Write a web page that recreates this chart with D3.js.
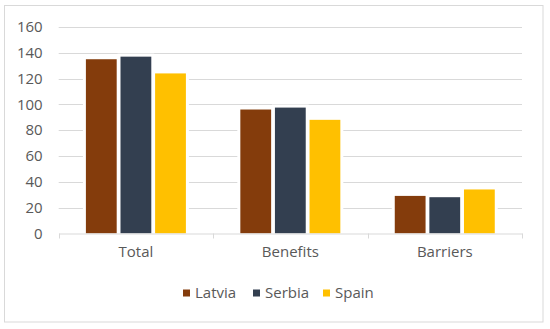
<!DOCTYPE html>
<html>
<head>
<meta charset="utf-8">
<script src="https://cdn.jsdelivr.net/npm/d3@7"></script>
<style>
  body { margin: 0; background: #fff; }
  svg { display: block; font-family: "Open Sans", sans-serif; }
</style>
</head>
<body>
<svg id="chart" width="550" height="329"></svg>
<script>
const categories = ["Total", "Benefits", "Barriers"];
const seriesNames = ["Latvia", "Serbia", "Spain"];
const latvia = [135, 96, 29];
const serbia = [137, 97.5, 28];
const spain = [124, 88, 34];
const yTicks = [0, 20, 40, 60, 80, 100, 120, 140, 160];
const colors = ["#843C0C", "#333F50", "#FFC000"];

const seriesValues = [latvia, serbia, spain];
const data = categories.map((c, i) => ({
    name: c,
    values: seriesNames.map((s, j) => ({ key: s, value: seriesValues[j][i] }))
}));

const width = 550;
const height = 329;
const margin = { top: 27, right: 28, bottom: 95.7, left: 58.7 };
const fontSize = "15px";

const svg = d3.select("#chart");

// outer frame
svg.append("rect")
    .attr("x", 4.5).attr("y", 5.5)
    .attr("width", 538.5).attr("height", 316.5)
    .attr("fill", "none")
    .attr("stroke", "#D9D9D9")
    .attr("stroke-width", 1);

const y = d3.scaleLinear()
    .domain([0, 160])
    .range([height - margin.bottom, margin.top]);

const x0 = d3.scaleBand()
    .domain(categories)
    .range([margin.left, width - margin.right])
    .padding(0);

const x1 = d3.scaleBand()
    .domain(seriesNames)
    .range([27.2, 127.2])
    .paddingInner(0.11);

const color = d3.scaleOrdinal()
    .domain(seriesNames)
    .range(colors);

// gridlines
svg.append("g")
    .selectAll("line")
    .data(yTicks.filter(d => d > 0))
    .join("line")
    .attr("x1", margin.left)
    .attr("x2", width - margin.right)
    .attr("y1", d => Math.round(y(d)) + 0.5)
    .attr("y2", d => Math.round(y(d)) + 0.5)
    .attr("stroke", "#D9D9D9")
    .attr("stroke-width", 1);

// y labels
let yAxis = g => g
    .attr("transform", `translate(${margin.left - 16},0)`)
    .call(d3.axisLeft(y).tickValues(yTicks).tickSize(0).tickPadding(0))
    .call(g => g.select(".domain").remove())
    .call(g => g.selectAll("text")
        .attr("fill", "#595959")
        .attr("font-size", fontSize)
        .attr("font-family", "Open Sans, sans-serif"));

svg.append("g").call(yAxis);

// bars
const groups = svg.append("g")
    .selectAll("g")
    .data(data)
    .join("g")
    .attr("transform", d => `translate(${x0(d.name)},0)`);

// white halo behind bars (breaks the gridlines like the original)
groups.selectAll("rect.halo")
    .data(d => d.values)
    .join("rect")
    .attr("class", "halo")
    .attr("x", d => x1(d.key) - 3)
    .attr("y", d => y(d.value) - 3)
    .attr("width", x1.bandwidth() + 6)
    .attr("height", d => y(0) - y(d.value) + 3)
    .attr("fill", "#fff");

groups.selectAll("rect.bar")
    .data(d => d.values)
    .join("rect")
    .attr("class", "bar")
    .attr("x", d => x1(d.key))
    .attr("y", d => y(d.value))
    .attr("width", x1.bandwidth())
    .attr("height", d => y(0) - y(d.value))
    .attr("fill", d => color(d.key));

// x axis
let xAxis = g => g
    .attr("transform", `translate(0,${Math.round(y(0)) + 0.5})`)
    .call(d3.axisBottom(x0).tickSize(0).tickPadding(13))
    .call(g => g.select(".domain").attr("stroke", "#D9D9D9"))
    .call(g => g.selectAll("text")
        .attr("fill", "#595959")
        .attr("font-size", fontSize)
        .attr("font-family", "Open Sans, sans-serif"));

svg.append("g").call(xAxis);

// category separators
const tickX = categories.map(c => x0(c)).concat([width - margin.right]);
svg.append("g")
    .selectAll("line")
    .data(tickX)
    .join("line")
    .attr("x1", d => Math.round(d) + 0.5)
    .attr("x2", d => Math.round(d) + 0.5)
    .attr("y1", Math.round(y(0)) + 0.5)
    .attr("y2", Math.round(y(0)) + 5.5)
    .attr("stroke", "#D9D9D9");

// legend
const legendItems = [
    { key: "Latvia", x: 183 },
    { key: "Serbia", x: 253 },
    { key: "Spain", x: 323 }
];
const legend = svg.append("g")
    .selectAll("g")
    .data(legendItems)
    .join("g")
    .attr("transform", d => `translate(${d.x},293)`);

legend.append("rect")
    .attr("x", 0).attr("y", -3.5)
    .attr("width", 7).attr("height", 7)
    .attr("fill", d => color(d.key));

legend.append("text")
    .attr("x", 12)
    .attr("dy", "0.35em")
    .attr("fill", "#595959")
    .attr("font-size", fontSize)
    .text(d => d.key);
</script>
</body>
</html>
